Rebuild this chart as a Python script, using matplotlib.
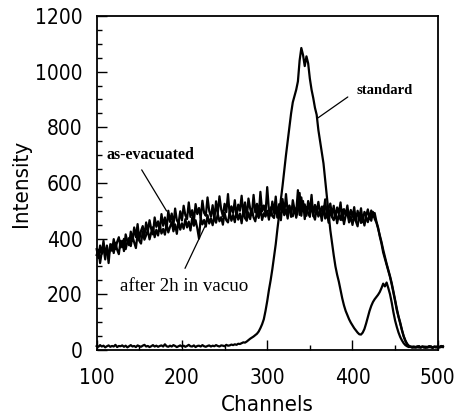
import matplotlib
matplotlib.use("Agg")
import matplotlib.pyplot as plt
from matplotlib.ticker import MultipleLocator
from matplotlib import font_manager

channels = list(range(100, 507, 2))

standard = [14, 11, 17, 12, 15, 9, 13, 16, 11, 14,
            12, 18, 10, 14, 13, 16, 11, 15, 9, 13,
            17, 12, 14, 10, 16, 13, 11, 15, 18, 12,
            14, 10, 13, 17, 12, 15, 11, 14, 16, 12,
            20, 13, 11, 15, 12, 17, 14, 10, 13, 16,
            12, 15, 11, 14, 18, 13, 12, 16, 10, 14,
            15, 12, 17, 13, 11, 14, 16, 12, 15, 13,
            17, 14, 12, 16, 15, 13, 18, 15, 16, 19,
            17, 20, 18, 22, 21, 24, 27, 26, 30, 35,
            40, 44, 48, 53, 58, 66, 78, 92, 110, 140,
            175, 215, 250, 290, 335, 380, 435, 485, 540, 590,
            645, 700, 750, 800, 850, 890, 912, 935, 965, 1040,
            1085, 1060, 1020, 1055, 1030, 975, 935, 905, 870, 845,
            790, 750, 710, 670, 610, 550, 490, 430, 385, 340,
            300, 270, 245, 215, 185, 160, 140, 125, 110, 98,
            88, 78, 70, 62, 56, 55, 62, 75, 95, 118,
            140, 158, 172, 182, 190, 198, 208, 222, 238, 228,
            242, 222, 200, 170, 135, 105, 82, 62, 46, 34,
            24, 17, 13, 10, 12, 8, 11, 9, 13, 8,
            10, 12, 9, 11, 8, 13, 10, 9, 12, 8,
            11, 9, 13, 12]

as_evacuated = [362, 330, 375, 345, 392, 340, 370, 312, 380, 356,
                398, 362, 388, 405, 368, 392, 355, 415, 390, 376,
                425, 392, 440, 405, 452, 396, 428, 445, 410, 458,
                425, 466, 434, 415, 476, 442, 462, 428, 488, 446,
                476, 434, 500, 460, 490, 447, 508, 466, 455, 498,
                465, 518, 484, 470, 530, 478, 502, 462, 524, 488,
                510, 474, 536, 492, 482, 548, 499, 479, 520, 468,
                534, 490, 552, 505, 481, 525, 495, 560, 486, 516,
                492, 538, 478, 522, 500, 554, 487, 530, 473, 544,
                508, 484, 557, 494, 525, 480, 568, 498, 519, 489,
                585, 501, 483, 533, 492, 551, 475, 524, 504, 542,
                488, 560, 496, 517, 478, 538, 505, 493, 574, 485,
                548, 499, 523, 482, 535, 495, 557, 480, 521, 498,
                532, 485, 515, 492, 541, 476, 510, 526, 483, 518,
                473, 512, 490, 530, 466, 506, 484, 519, 470, 503,
                478, 513, 463, 500, 474, 509, 459, 496, 482, 505,
                470, 501, 478, 492, 462, 440, 408, 382, 350, 328,
                305, 285, 262, 235, 205, 175, 142, 118, 95, 70,
                48, 32, 20, 14, 10, 12, 8, 11, 9, 13,
                8, 10, 12, 7, 11, 9, 13, 8, 10, 12,
                9, 11, 14, 10]

after_2h = [341, 360, 312, 352, 366, 325, 375, 342, 362, 379,
            348, 385, 360, 344, 392, 369, 399, 362, 388, 402,
            373, 408, 386, 366, 416, 392, 382, 425, 396, 412,
            430, 397, 422, 441, 405, 432, 411, 448, 418, 435,
            414, 453, 422, 442, 459, 426, 451, 417, 464, 432,
            455, 435, 470, 440, 461, 429, 475, 446, 466, 437,
            400, 476, 451, 467, 443, 484, 454, 473, 448, 480,
            457, 489, 462, 477, 450, 493, 466, 458, 496, 464,
            485, 459, 499, 468, 490, 455, 502, 473, 464, 494,
            470, 506, 476, 462, 497, 474, 509, 467, 491, 479,
            500, 468, 512, 481, 474, 516, 477, 498, 466, 527,
            484, 505, 472, 519, 488, 480, 511, 475, 502, 564,
            482, 535, 470, 514, 491, 478, 522, 486, 468, 509,
            479, 501, 464, 516, 472, 494, 457, 507, 477, 466,
            498, 455, 486, 467, 504, 452, 482, 493, 458, 479,
            449, 483, 462, 444, 489, 456, 476, 447, 480, 459,
            484, 464, 496, 471, 458, 436, 412, 388, 360, 335,
            310, 288, 265, 240, 210, 178, 148, 120, 98, 72,
            50, 34, 22, 15, 11, 9, 12, 8, 10, 13,
            9, 12, 8, 11, 10, 13, 9, 7, 11, 10,
            12, 9, 10, 13]

x_ticks = [100, 200, 300, 400, 500]
y_ticks = [0, 200, 400, 600, 800, 1000, 1200]

# pick a narrow sans font if one is installed
names = {f.name for f in font_manager.fontManager.ttflist}
if 'Liberation Sans Narrow' in names:
    narrow_fp = dict(family='Liberation Sans Narrow')
elif any(f.name == 'DejaVu Sans' and 'condensed' in str(f.stretch) for f in font_manager.fontManager.ttflist):
    narrow_fp = dict(family='DejaVu Sans', stretch='condensed')
else:
    narrow_fp = dict(family='Liberation Sans')

fig = plt.figure(figsize=(4.56, 4.16), dpi=100)
ax = fig.add_axes([0.212, 0.159, 0.748, 0.8025])

for series in (as_evacuated, after_2h, standard):
    ax.plot(channels, series, color='black', lw=1.6, clip_on=False)

ax.set_xlim(100, 500)
ax.set_ylim(0, 1200)
ax.set_xticks(x_ticks)
ax.set_yticks(y_ticks)
ax.xaxis.set_minor_locator(MultipleLocator(50))
ax.yaxis.set_minor_locator(MultipleLocator(50))
ax.tick_params(which='both', direction='in', top=False, right=False, width=1.0)
ax.tick_params(which='major', length=7, labelsize=15)
ax.tick_params(axis='x', which='major', pad=13)
ax.tick_params(axis='y', which='major', pad=10)
ax.tick_params(which='minor', length=3.5)
for lab in ax.get_xticklabels() + ax.get_yticklabels():
    lab.set(**narrow_fp)
for s in ax.spines.values():
    s.set_linewidth(1.3)

ax.set_xlabel('Channels', fontsize=16, labelpad=5, **narrow_fp)
ax.set_ylabel('Intensity', fontsize=16, labelpad=3, **narrow_fp)

serif = ['Liberation Serif', 'DejaVu Serif']
line_kw = dict(arrowstyle='-', color='black', lw=0.9, shrinkA=0, shrinkB=0)

ax.text(405, 931, 'standard', fontsize=10.5, fontweight='bold', family=serif,
        va='center', ha='left')
ax.annotate('', xy=(359.6, 834), xytext=(394.5, 909), arrowprops=line_kw)

ax.text(111, 700, 'as-evacuated', fontsize=11.5, fontweight='bold', family=serif,
        va='center', ha='left')
ax.annotate('', xy=(182, 499), xytext=(152.8, 647), arrowprops=line_kw)

ax.text(127.4, 226, 'after 2h in vacuo', fontsize=13.7, family=serif,
        va='center', ha='left')
ax.annotate('', xy=(227, 444), xytext=(203.6, 293), arrowprops=line_kw)

fig.savefig('out.png', dpi=100)
